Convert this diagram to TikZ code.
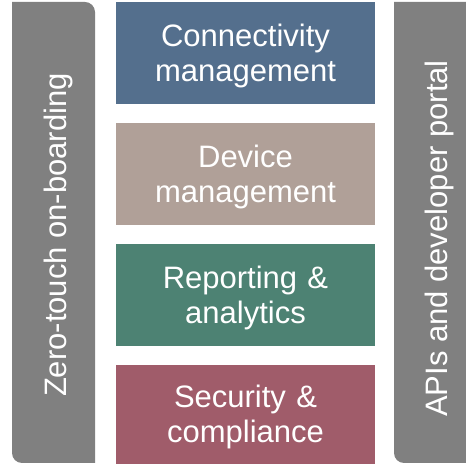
\documentclass[tikz,border=0pt]{standalone}
\usepackage{fontspec}
\setmainfont{Liberation Sans}
\usepackage{xcolor}
\usepackage{tikz}
\usetikzlibrary{positioning}

\definecolor{connblue}{RGB}{84,111,141}
\definecolor{devbrown}{RGB}{176,160,152}
\definecolor{repgreen}{RGB}{77,130,115}
\definecolor{secred}{RGB}{160,92,106}
\definecolor{bargray}{RGB}{128,128,128}

\begin{document}
\begin{tikzpicture}[x=1pt,y=1pt,
		block/.style={text width=259pt,text height=45pt,text depth=57pt,inner sep=0pt,
			text=white,align=center,font=\fontsize{31}{35}\selectfont},
		sidetext/.style={rotate=90,text=white,inner sep=0pt,font=\fontsize{31}{35}\selectfont},
		node distance=18.5pt]
		\useasboundingbox (0,0) rectangle (466,465);
		\clip (0,0) rectangle (466,465);
		%
		\fill[bargray] (12,463) -- (85,463) arc[start angle=90,end angle=0,radius=10]
			-- (95,2) -- (22,2) arc[start angle=270,end angle=180,radius=10] -- cycle;
		\fill[bargray] (394,463) -- (467,463) arc[start angle=90,end angle=0,radius=10]
			-- (477,2) -- (404,2) arc[start angle=270,end angle=180,radius=10] -- cycle;
		%
		\node[block,fill=connblue] (conn) at (245.5,412) {Connectivity\\management};
		\node[block,fill=devbrown,below=of conn] (dev) {Device\\management};
		\node[block,fill=repgreen,below=of dev] (rep) {Reporting \&\\analytics};
		\node[block,fill=secred,below=of rep,text height=42.5pt] (sec) {Security \&\\compliance};
		%
		\node[sidetext] (onboard) at (58.5,230) {Zero-touch on-boarding};
		\node[sidetext] (apis) at (439,226.5) {APIs and developer portal};
\end{tikzpicture}
\end{document}
